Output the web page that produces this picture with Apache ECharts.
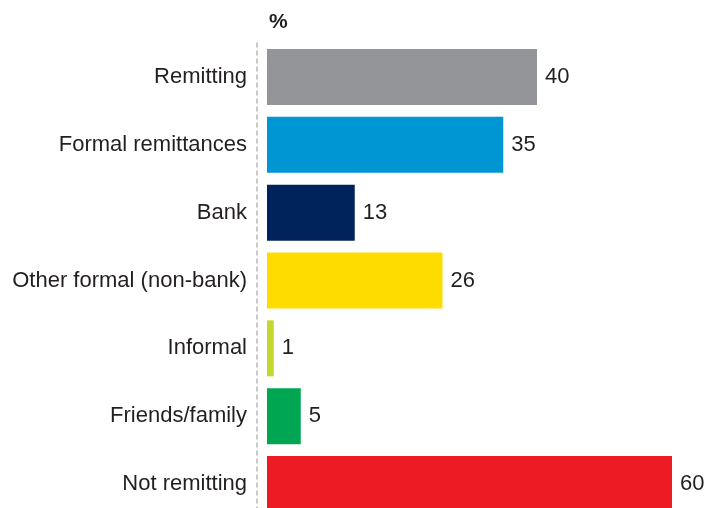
<!DOCTYPE html>
<html>
<head>
<meta charset="utf-8">
<script src="https://cdn.jsdelivr.net/npm/echarts@6/dist/echarts.min.js"></script>
<style>
  html, body { margin: 0; padding: 0; background: #ffffff; overflow: hidden; }
  /* the plot runs a little past the bottom edge of the window, so the last bar is cut off */
  #chart { width: 709px; height: 518px; }
</style>
</head>
<body>
<div id="chart"></div>
<script>
// Share of respondents by remittance channel (%)
const categories = [
  'Remitting',
  'Formal remittances',
  'Bank',
  'Other formal (non-bank)',
  'Informal',
  'Friends/family',
  'Not remitting'
];
const values = [40, 35, 13, 26, 1, 5, 60];
const barColors = ['#949599', '#0095D3', '#00235B', '#FFDC00', '#C4D72F', '#00A651', '#ED1C24'];
const unitLabel = '%';

const FONT = '"Liberation Sans", Arial, sans-serif';

const chart = echarts.init(document.getElementById('chart'));
chart.setOption({
  animation: false,
  backgroundColor: '#ffffff',
  title: {
    text: unitLabel,
    left: 269,
    top: 12,
    padding: 0,
    textStyle: { fontFamily: FONT, fontSize: 21, fontWeight: 'bold', color: '#231f20' }
  },
  grid: { left: 267, right: 37, top: 43, bottom: 0, containLabel: false },
  xAxis: {
    type: 'value',
    min: 0,
    max: 60,
    show: false
  },
  yAxis: {
    type: 'category',
    data: categories,
    inverse: true,
    offset: 10,
    axisTick: { show: false },
    axisLine: {
      show: true,
      onZero: false,
      lineStyle: { color: '#b8b8b8', width: 1.5, type: [4, 4] }
    },
    axisLabel: {
      margin: 10,
      fontFamily: FONT,
      fontSize: 22,
      color: '#231f20'
    }
  },
  series: [{
    type: 'bar',
    barWidth: 56,
    data: values.map((v, i) => ({ value: v, itemStyle: { color: barColors[i] } })),
    label: {
      show: true,
      position: 'right',
      distance: 8,
      fontFamily: FONT,
      fontSize: 22,
      color: '#231f20'
    }
  }]
});
</script>
</body>
</html>
